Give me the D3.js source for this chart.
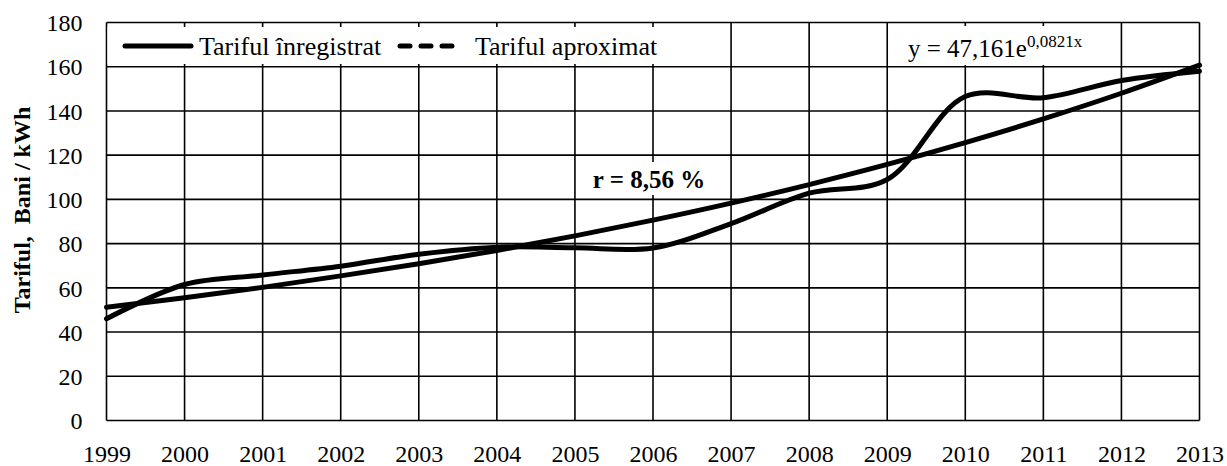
<!DOCTYPE html>
<html>
<head>
<meta charset="utf-8">
<script src="https://cdn.jsdelivr.net/npm/d3@7"></script>
<style>
  body { margin: 0; background: #fff; }
  text { font-family: "Liberation Serif", "Times New Roman", serif; fill: #000; }
</style>
</head>
<body>
<div id="chart"></div>
<script>
// values
const years = [1999, 2000, 2001, 2002, 2003, 2004, 2005, 2006, 2007, 2008, 2009, 2010, 2011, 2012, 2013];
const recorded = [46, 61.5, 65.8, 69.8, 75.2, 78.4, 78.1, 78.0, 89, 102.8, 109, 146.5, 146, 153.8, 158];
// exponential trend as drawn: y = 47,161e^0,0821x
const trend = [51.2, 55.5, 60.2, 65.4, 70.9, 76.9, 83.5, 90.6, 98.3, 106.7, 115.8, 125.7, 136.4, 148.0, 160.7];
const yTicks = [0, 20, 40, 60, 80, 100, 120, 140, 160, 180];
const seriesNames = ['Tariful înregistrat', 'Tariful aproximat'];

const width = 1227;
const height = 466;
const margin = {top: 22.5, right: 27.5, bottom: 45.5, left: 106.5};
const serif = '"Liberation Serif", "Times New Roman", serif';

const svg = d3.select('#chart').append('svg')
  .attr('width', width)
  .attr('height', height)
  .attr('font-family', serif);

const x = d3.scaleLinear()
  .domain([1999, 2013])
  .range([margin.left, width - margin.right]);
const y = d3.scaleLinear()
  .domain([0, 180])
  .range([height - margin.bottom, margin.top]);

// grid
const grid = svg.append('g').attr('stroke', '#000').attr('stroke-width', 1.6);
grid.selectAll('line.h')
  .data(yTicks)
  .enter().append('line')
    .attr('class', 'h')
    .attr('x1', x.range()[0]).attr('x2', x.range()[1])
    .attr('y1', d => y(d)).attr('y2', d => y(d));
grid.selectAll('line.v')
  .data(years)
  .enter().append('line')
    .attr('class', 'v')
    .attr('x1', d => x(d)).attr('x2', d => x(d))
    .attr('y1', y.range()[0]).attr('y2', y.range()[1]);

// axes (labels only, the grid draws the frame)
const yAxis = svg.append('g')
  .attr('transform', `translate(${margin.left},0)`)
  .call(d3.axisLeft(y).tickValues(yTicks).tickSize(0).tickPadding(24))
  .attr('font-family', serif);
yAxis.select('.domain').remove();
yAxis.selectAll('text').style('font-size', '24px').attr('dy', '0.34em');

const xAxis = svg.append('g')
  .attr('transform', `translate(0,${y(0)})`)
  .call(d3.axisBottom(x).tickValues(years).tickFormat(d3.format('d')).tickSize(0).tickPadding(29))
  .attr('font-family', serif);
xAxis.select('.domain').remove();
xAxis.selectAll('text').style('font-size', '24px').attr('dy', '0.5em');

svg.append('text')
  .attr('transform', `translate(30,210) rotate(-90)`)
  .attr('text-anchor', 'middle')
  .style('font-size', '24px')
  .style('font-weight', 'bold')
  .style('white-space', 'pre')
  .text('Tariful,  Bani / kWh');

// white boxes for legend, equation, r label
svg.append('rect').attr('x', x(1999) + 1).attr('y', 27).attr('width', 606).attr('height', 37).attr('fill', '#fff');
svg.append('rect').attr('x', 901).attr('y', 26).attr('width', 201).attr('height', 39).attr('fill', '#fff');
svg.append('rect').attr('x', 583).attr('y', 162).attr('width', 132).attr('height', 33).attr('fill', '#fff');

// lines
const line = d3.line()
  .x((d, i) => x(years[i]))
  .y(d => y(d));

svg.append('path')
  .datum(recorded)
  .attr('fill', 'none')
  .attr('stroke', '#000')
  .attr('stroke-width', 5)
  .attr('stroke-linecap', 'round')
  .attr('d', line.curve(d3.curveCatmullRom.alpha(0.5)));

svg.append('path')
  .datum(trend)
  .attr('fill', 'none')
  .attr('stroke', '#000')
  .attr('stroke-width', 5)
  .attr('stroke-linecap', 'round')
  .attr('d', line.curve(d3.curveMonotoneX));

// legend
const legend = svg.append('g');
legend.append('line')
  .attr('x1', 125).attr('x2', 191).attr('y1', 46).attr('y2', 46)
  .attr('stroke', '#000').attr('stroke-width', 5).attr('stroke-linecap', 'round');
legend.append('text')
  .attr('x', 199).attr('y', 55)
  .style('font-size', '26px')
  .text(seriesNames[0]);
legend.append('line')
  .attr('x1', 400).attr('x2', 452).attr('y1', 46).attr('y2', 46)
  .attr('stroke', '#000').attr('stroke-width', 5).attr('stroke-linecap', 'round')
  .attr('stroke-dasharray', '10,11');
legend.append('text')
  .attr('x', 475).attr('y', 55)
  .style('font-size', '26px')
  .text(seriesNames[1]);

// equation
const eq = svg.append('text')
  .attr('x', 908).attr('y', 57)
  .style('font-size', '25px');
eq.append('tspan').text('y = 47,161e');
eq.append('tspan')
  .attr('dy', -10)
  .style('font-size', '17px')
  .text('0,0821x');

svg.append('text')
  .attr('x', 649).attr('y', 188)
  .attr('text-anchor', 'middle')
  .style('font-size', '25px')
  .style('font-weight', 'bold')
  .text('r = 8,56 %');
</script>
</body>
</html>
